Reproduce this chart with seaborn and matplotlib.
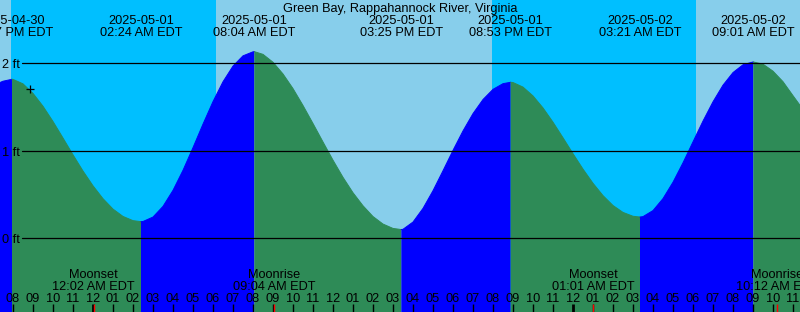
import numpy as np
import pandas as pd
import matplotlib
matplotlib.use("Agg")
import matplotlib.pyplot as plt
import seaborn as sns
from matplotlib.transforms import blended_transform_factory

# ---------------- data (hours relative to 2025-05-01 00:00 EDT) ----------------
title = "Green Bay, Rappahannock River, Virginia"

extreme_times = [-4.05, 2.40, 8.067, 15.417, 20.883, 27.35, 33.017]
extreme_heights = [1.817, 0.19, 2.133, 0.10, 1.783, 0.243, 2.015]
extreme_dates = ["2025-04-30", "2025-05-01", "2025-05-01", "2025-05-01",
                 "2025-05-01", "2025-05-02", "2025-05-02"]
extreme_clock = ["07:57 PM EDT", "02:24 AM EDT", "08:04 AM EDT", "03:25 PM EDT",
                 "08:53 PM EDT", "03:21 AM EDT", "09:01 AM EDT"]

curve_times = [-4.65, -4.5, -4.0, -3.5, -3.0, -2.5, -2.0, -1.5, -1.0, -0.5,
               0.0, 0.5, 1.0, 1.5, 2.0, 2.5, 3.0, 3.5, 4.0, 4.5,
               5.0, 5.5, 6.0, 6.5, 7.0, 7.5, 8.0, 8.5, 9.0, 9.5,
               10.0, 10.5, 11.0, 11.5, 12.0, 12.5, 13.0, 13.5, 14.0, 14.5,
               15.0, 15.5, 16.0, 16.5, 17.0, 17.5, 18.0, 18.5, 19.0, 19.5,
               20.0, 20.5, 21.0, 21.5, 22.0, 22.5, 23.0, 23.5, 24.0, 24.5,
               25.0, 25.5, 26.0, 26.5, 27.0, 27.5, 28.0, 28.5, 29.0, 29.5,
               30.0, 30.5, 31.0, 31.5, 32.0, 32.5, 33.0, 33.5, 34.0, 34.5,
               35.0, 35.35]
curve_heights = [1.780, 1.795, 1.816, 1.765, 1.656, 1.509, 1.335, 1.146, 0.954, 0.769,
                 0.600, 0.453, 0.334, 0.250, 0.202, 0.192, 0.243, 0.365, 0.548, 0.777,
                 1.036, 1.305, 1.562, 1.789, 1.968, 2.085, 2.131, 2.102, 2.012, 1.878,
                 1.711, 1.518, 1.312, 1.101, 0.893, 0.697, 0.521, 0.372, 0.249, 0.163,
                 0.113, 0.103, 0.186, 0.342, 0.544, 0.772, 1.005, 1.227, 1.425, 1.586,
                 1.702, 1.767, 1.780, 1.728, 1.627, 1.490, 1.327, 1.149, 0.967, 0.791,
                 0.629, 0.488, 0.375, 0.296, 0.252, 0.248, 0.317, 0.454, 0.641, 0.863,
                 1.102, 1.340, 1.560, 1.750, 1.894, 1.983, 2.015, 1.990, 1.910, 1.790,
                 1.630, 1.520]

sunset_times = [-4.08, 19.93]
sunrise_times = [6.13, 30.13]

moon_times = [0.033, 9.067, 25.017, 34.2]
moon_names = ["Moonset", "Moonrise", "Moonset", "Moonrise"]
moon_clock = ["12:02 AM EDT", "09:04 AM EDT", "01:01 AM EDT", "10:12 AM EDT"]

hour_labels = ["08", "09", "10", "11", "12", "01", "02", "03", "04", "05",
               "06", "07", "08", "09", "10", "11", "12", "01", "02", "03",
               "04", "05", "06", "07", "08", "09", "10", "11", "12", "01",
               "02", "03", "04", "05", "06", "07", "08", "09", "10", "11"]
first_hour = -4
midnights = [0, 24]

level_values = [0, 1, 2]
level_labels = ["0 ft", "1 ft", "2 ft"]

mark_time, mark_height = -3.15, 1.703

# ---------------- style ----------------
sns.set_theme(style="white")
plt.rcParams["font.family"] = ["Liberation Sans", "DejaVu Sans"]

DAY = "#87CEEB"
NIGHT = "#00BFFF"
FLOOD = "#0000FF"
EBB = "#2E8B57"
FS = 9.2

W, H = 800, 312
fig = plt.figure(figsize=(W / 100, H / 100), dpi=100)
fig.patch.set_facecolor(DAY)
ax = fig.add_axes([0, 0, 1, 1])
ax.set_facecolor(DAY)
xmin, xmax = -4.65, 35.35
ymin, ymax = -0.842, 2.723
ax.set_xlim(xmin, xmax)
ax.set_ylim(ymin, ymax)
for s in ax.spines.values():
    s.set_visible(False)
ax.set_xticks([])
ax.set_yticks([])


def yfrac(py):
    return 1 - py / H


tx = blended_transform_factory(ax.transData, ax.transAxes)
ty = blended_transform_factory(ax.transAxes, ax.transData)

# night shading
for ss, sr in zip(sunset_times, sunrise_times):
    ax.axvspan(ss, sr, color=NIGHT, lw=0, zorder=0)

# tide curve and fills
t_all = np.array(curve_times + extreme_times)
h_all = np.array(curve_heights + extreme_heights)
order = np.argsort(t_all)
t_all, h_all = t_all[order], h_all[order]

bounds = [xmin] + extreme_times + [xmax]
rows = []
palette = {}
for i in range(len(bounds) - 1):
    a, b = bounds[i], bounds[i + 1]
    m = (t_all >= a - 1e-9) & (t_all <= b + 1e-9)
    ts, hs = t_all[m], h_all[m]
    col = FLOOD if hs[-1] > hs[0] else EBB
    palette[i] = col
    ax.fill_between(ts, hs, ymin - 1, color=col, lw=0, zorder=1)
    for tt, hh in zip(ts, hs):
        rows.append({"t": tt, "h": hh, "seg": i})
df = pd.DataFrame(rows)
sns.lineplot(data=df, x="t", y="h", hue="seg", palette=palette, legend=False,
             estimator=None, sort=True, lw=0.7, ax=ax, zorder=1.5)
ax.set_xlabel("")
ax.set_ylabel("")

# height levels
for v, lab in zip(level_values, level_labels):
    ax.plot([22 / W, 1], [v, v], transform=ty, color="black", lw=0.9, zorder=2)
    ax.text(2.5 / W, v - 5 / 87.5, lab, transform=ty, ha="left", va="baseline",
            fontsize=FS, color="black", zorder=3)

# title
ax.text(400.5 / W, yfrac(11.7), title, transform=ax.transAxes, ha="center",
        va="baseline", fontsize=FS, color="black", zorder=3)

# extreme labels
for t, d, c in zip(extreme_times, extreme_dates, extreme_clock):
    ax.text(t, yfrac(24), d, transform=tx, ha="center", va="baseline",
            fontsize=FS, color="black", zorder=3)
    ax.text(t, yfrac(36), c, transform=tx, ha="center", va="baseline",
            fontsize=FS, color="black", zorder=3)

# moon labels
for t, n, c in zip(moon_times, moon_names, moon_clock):
    ax.text(t, yfrac(278.3), n, transform=tx, ha="center", va="baseline",
            fontsize=FS, color="black", zorder=3)
    ax.text(t, yfrac(290), c, transform=tx, ha="center", va="baseline",
            fontsize=FS, color="black", zorder=3)

# hour ticks and labels
for k, lab in enumerate(hour_labels):
    t = first_hour + k
    lw = 2.0 if t in midnights else 1.0
    ax.plot([t, t], [0, 8 / H], transform=tx, color="black", lw=lw, zorder=3,
            solid_capstyle="butt")
    ax.text(t, yfrac(301.7), lab, transform=tx, ha="center", va="baseline",
            fontsize=FS, color="black", zorder=3)
for t in moon_times:
    ax.plot([t, t], [0, 8 / H], transform=tx, color="red", lw=1.0, zorder=3.5,
            solid_capstyle="butt")

# "+" mark
ax.plot([mark_time], [mark_height], marker="+", ms=6.3, mew=0.9, color="black",
        ls="none", zorder=3)

fig.savefig("out.png", dpi=100, facecolor=fig.get_facecolor())
